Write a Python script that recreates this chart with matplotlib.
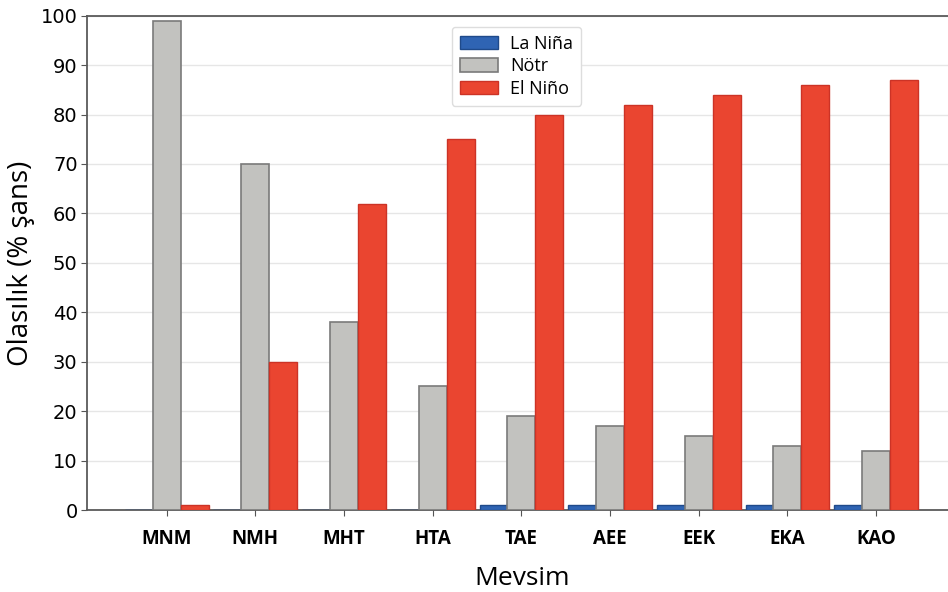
import numpy as np
import matplotlib
matplotlib.use("Agg")
import matplotlib.pyplot as plt

seasons = ["MNM", "NMH", "MHT", "HTA", "TAE", "AEE", "EEK", "EKA", "KAO"]
la_nina = [0, 0, 0, 0, 1, 1, 1, 1, 1]
notr = [99, 70, 38, 25, 19, 17, 15, 13, 12]
el_nino = [1, 30, 62, 75, 80, 82, 84, 86, 87]

fig = plt.figure(figsize=(9.48, 5.92), dpi=100)
ax = fig.add_axes([0.0921, 0.1385, 0.9163, 0.835])

x = np.arange(len(seasons))
w = 0.315

ax.bar(x - w, la_nina, w, color="#2f64b3", edgecolor="#1f4a8a", linewidth=1, label="La Niña", zorder=3)
ax.bar(x, notr, w, color="#c2c2bf", edgecolor="#7a7a7a", linewidth=1.2, label="Nötr", zorder=3)
ax.bar(x + w, el_nino, w, color="#ea4530", edgecolor="#cc3326", linewidth=1, label="El Niño", zorder=3)

ax.set_xlim(-0.895, 8.9)
ax.set_ylim(0, 100)
ax.set_yticks(np.arange(0, 101, 10))
ax.set_xticks(x)
ax.set_xticklabels(seasons, fontfamily="Open Sans", fontweight="bold", fontsize=13.5)
ax.tick_params(axis="y", labelsize=14, length=4, color="#555555", pad=3)
ax.tick_params(axis="x", length=4, color="#555555", pad=10)

ax.yaxis.grid(True, color="#e6e6e6", linewidth=1, zorder=0)
ax.set_axisbelow(True)

for s in ["left", "top", "bottom", "right"]:
    ax.spines[s].set_color("#5a5a5a")
    ax.spines[s].set_linewidth(1.3)

ax.set_ylabel("Olasılık (% şans)", fontfamily="Open Sans", fontsize=20, labelpad=4)
ax.set_xlabel("Mevsim", fontfamily="Open Sans", fontsize=19, labelpad=12)

leg = ax.legend(loc="upper left", bbox_to_anchor=(0.409, 0.996), prop={"family": "Open Sans", "size": 13},
                handlelength=2.1, handleheight=0.8, handletextpad=0.7, labelspacing=0.25, borderpad=0.45,
                fancybox=True, framealpha=1, edgecolor="#dddddd")

fig.savefig("out.png", dpi=100)
